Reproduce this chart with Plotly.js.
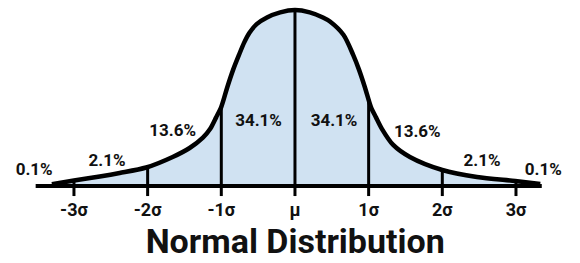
<!DOCTYPE html>
<html>
<head>
<meta charset="utf-8">
<script src="https://cdn.plot.ly/plotly-3.0.1.min.js"></script>
<style>html,body{margin:0;padding:0;background:#fff;}#chart{width:580px;height:263px;}</style>
</head>
<body>
<div id="chart"></div>
<script>
// Curve: x in sigma units, height relative to the peak
const curveX = [-3.30, -3.00, -2.65, -2.38, -2.02, -1.66, -1.43, -1.25, -1.15, -1.07, -1.00, -0.92, -0.84, -0.76, -0.69, -0.62, -0.52, -0.38, -0.20, 0.00, 0.20, 0.38, 0.475, 0.66, 0.79, 0.87, 0.95, 1.03, 1.10, 1.18, 1.33, 1.56, 2.00, 2.47, 2.99, 3.33];
const curveY = [0.010, 0.031, 0.054, 0.074, 0.105, 0.165, 0.216, 0.275, 0.325, 0.390, 0.450, 0.560, 0.660, 0.745, 0.815, 0.870, 0.920, 0.958, 0.987, 1.000, 0.987, 0.958, 0.935, 0.858, 0.745, 0.660, 0.560, 0.450, 0.390, 0.325, 0.235, 0.165, 0.091, 0.051, 0.028, 0.011];

// Sigma marks and their labels
const sigmaVals = [-3, -2, -1, 0, 1, 2, 3];
const sigmaLabels = ['-3σ', '-2σ', '-1σ', 'μ', '1σ', '2σ', '3σ'];

// Percentage labels
const pctLabels = ['0.1%', '2.1%', '13.6%', '34.1%', '34.1%', '13.6%', '2.1%', '0.1%'];
const pctX = [-3.54, -2.55, -1.66, -0.495, 0.53, 1.66, 2.54, 3.37];
const pctY = [0.088, 0.139, 0.31, 0.366, 0.366, 0.30, 0.139, 0.088];

const titleText = 'Normal Distribution';
const axisExtent = [-3.52, 3.35];
const tickBottom = -0.057;
const tickLabelY = -0.142;

function curveAt(x) {
  for (let i = 0; i < curveX.length - 1; i++) {
    if (x >= curveX[i] && x <= curveX[i + 1]) {
      const t = (x - curveX[i]) / (curveX[i + 1] - curveX[i]);
      return curveY[i] + t * (curveY[i + 1] - curveY[i]);
    }
  }
  return 0;
}

const FONT = 'Roboto, "Noto Sans", Arial, sans-serif';
const traces = [];

// filled area
traces.push({
  x: curveX, y: curveY, type: 'scatter', mode: 'lines',
  fill: 'tozeroy', fillcolor: '#d0e2f2',
  line: {color: 'rgba(0,0,0,0)', width: 0, shape: 'spline', smoothing: 0.8},
  hoverinfo: 'skip', showlegend: false
});

// vertical lines / ticks
sigmaVals.forEach(v => {
  traces.push({
    x: [v, v], y: [tickBottom, curveAt(v)], type: 'scatter', mode: 'lines',
    line: {color: '#000', width: 3}, hoverinfo: 'skip', showlegend: false
  });
});

// axis line
traces.push({
  x: axisExtent, y: [0, 0], type: 'scatter', mode: 'lines',
  line: {color: '#000', width: 4}, hoverinfo: 'skip', showlegend: false
});

// curve outline
traces.push({
  x: curveX, y: curveY, type: 'scatter', mode: 'lines',
  line: {color: '#000', width: 4.5, shape: 'spline', smoothing: 0.8},
  hoverinfo: 'skip', showlegend: false
});

// tick labels
traces.push({
  x: sigmaVals, y: sigmaVals.map(() => tickLabelY), type: 'scatter', mode: 'text',
  text: sigmaLabels.map(s => '<b>' + s + '</b>'), textposition: 'middle center',
  textfont: {family: FONT, size: 18, color: '#111'}, hoverinfo: 'skip', showlegend: false,
  cliponaxis: false
});

// percentage labels
traces.push({
  x: pctX, y: pctY, type: 'scatter', mode: 'text',
  text: pctLabels.map(s => '<b>' + s + '</b>'), textposition: 'middle center',
  textfont: {family: FONT, size: 17, color: '#111'}, hoverinfo: 'skip', showlegend: false,
  cliponaxis: false
});

const layout = {
  width: 580, height: 263,
  margin: {l: 0, r: 0, t: 0, b: 0},
  paper_bgcolor: '#fff', plot_bgcolor: '#fff',
  xaxis: {range: [-4.004, 3.869], visible: false, fixedrange: true},
  yaxis: {range: [-0.4375, 1.057], visible: false, fixedrange: true},
  title: {
    text: '<b>' + titleText + '</b>',
    x: 0.509, xanchor: 'center', y: 0.084, yanchor: 'middle',
    font: {family: FONT, size: 34, color: '#111'}
  },
  showlegend: false
};

Plotly.newPlot('chart', traces, layout, {displayModeBar: false, staticPlot: true});
</script>
</body>
</html>
